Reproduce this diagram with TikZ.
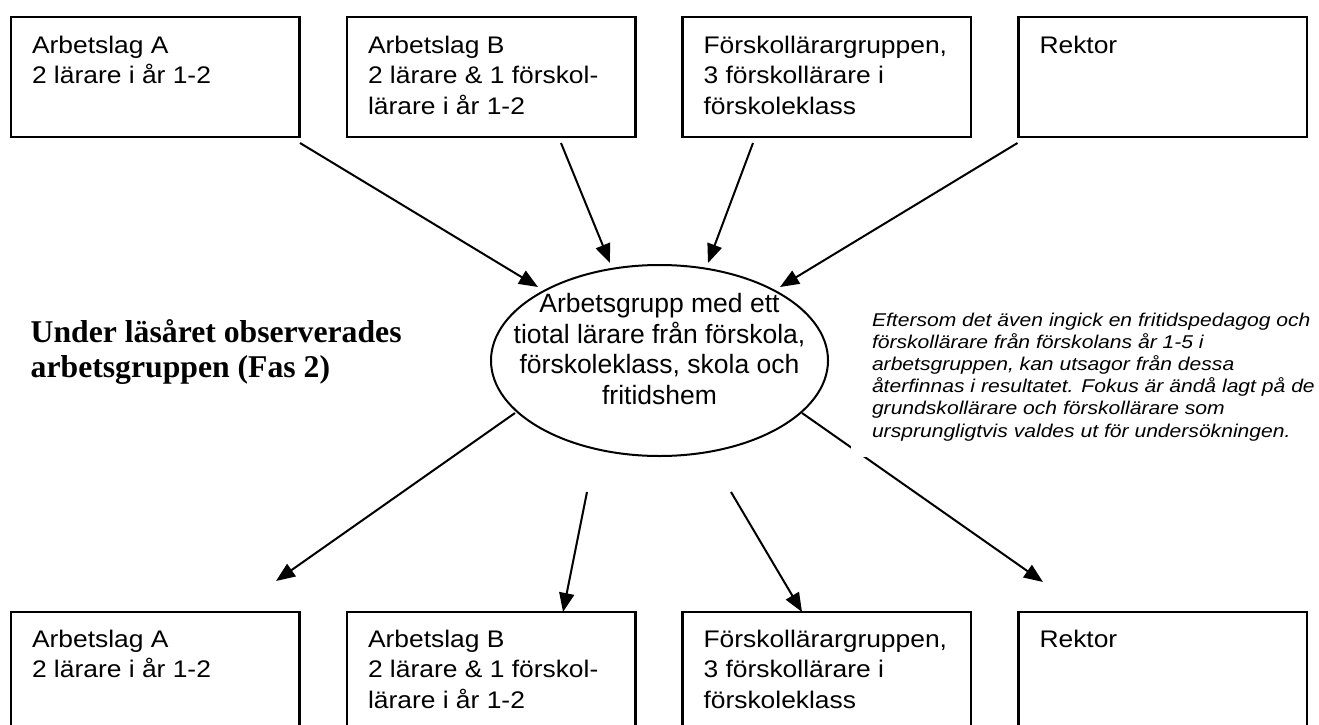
\documentclass[tikz,border=0pt]{standalone}
\usepackage{fontspec}
\setmainfont{Liberation Serif}
\setsansfont{Liberation Sans}
\newfontfamily\boxfont[FakeStretch=1.1]{Liberation Sans}
\newfontfamily\notefont[FakeStretch=1.14]{Liberation Sans}
\usetikzlibrary{arrows.meta,shapes.geometric}

\begin{document}
\begin{tikzpicture}[x=1pt,y=-1pt,
  every node/.style={inner sep=0pt, outer sep=0pt},
  unitbox/.style={draw, line width=2.2pt, minimum width=288.5pt, minimum height=120pt, anchor=north west},
  lowbox/.style={unitbox, minimum height=140pt},
  boxtext/.style={anchor=base west, align=left, font=\boxfont\fontsize{24}{30.7}\selectfont},
  flow/.style={line width=2pt, -{Triangle[length=19pt,width=15pt]}},
]
\useasboundingbox (0,0) rectangle (1319,725);
\clip (0,0) rectangle (1319,725);

% upper row of groups
\node[unitbox] (ta) at (11,17) {};
\node[unitbox] (tb) at (347,17) {};
\node[unitbox] (tc) at (682.5,17) {};
\node[unitbox] (td) at (1018.5,17) {};
% (text anchors sit on the last line: 36 + (lines-1) * 30.7 below the top)
\node[boxtext] (tatxt) at ([shift={(21,66.7)}]ta.north west) {Arbetslag A\\2 lärare i år 1-2};
\node[boxtext] (tbtxt) at ([shift={(21,97.4)}]tb.north west) {Arbetslag B\\2 lärare \& 1 förskol-\\lärare i år 1-2};
\node[boxtext] (tctxt) at ([shift={(21,97.4)}]tc.north west) {Förskollärargruppen,\\3 förskollärare i\\förskoleklass};
\node[boxtext] (tdtxt) at ([shift={(21,36)}]td.north west) {Rektor};

% lower row of groups (open at the foot)
\node[lowbox] (ba) at (11,612) {};
\node[lowbox] (bb) at (347,612) {};
\node[lowbox] (bc) at (682.5,612) {};
\node[lowbox] (bd) at (1018.5,612) {};
\node[boxtext] (batxt) at ([shift={(21,65.7)}]ba.north west) {Arbetslag A\\2 lärare i år 1-2};
\node[boxtext] (bbtxt) at ([shift={(21,96.4)}]bb.north west) {Arbetslag B\\2 lärare \& 1 förskol-\\lärare i år 1-2};
\node[boxtext] (bctxt) at ([shift={(21,96.4)}]bc.north west) {Förskollärargruppen,\\3 förskollärare i\\förskoleklass};
\node[boxtext] (bdtxt) at ([shift={(21,35)}]bd.north west) {Rektor};

% the working group
\node[draw, ellipse, line width=2pt, minimum width=337pt, minimum height=191pt] (grp) at (659.5,360.5) {};
\node[anchor=base, align=center, font=\sffamily\fontsize{26.5}{30.5}\selectfont] (grptxt)
  at ([shift={(0,43.5)}]grp.center) {Arbetsgrupp med ett\\tiotal lärare från förskola,\\förskoleklass, skola och\\fritidshem};

% phase heading
\node[anchor=base west, align=left, font=\bfseries\fontsize{31.7}{35}\selectfont] (phase)
  at (30.7,377) {Under läsåret observerades\\arbetsgruppen (Fas 2)};

% arrows into the working group
\draw[flow] ([shift={(0.5,6)}]ta.south east) -- ([shift={(-121.5,-73.5)}]grp.center);
\draw[flow] ([shift={(-74.5,6)}]tb.south east) -- ([shift={(-49.5,-97.5)}]grp.center);
\draw[flow] ([shift={(70.5,6)}]tc.south west) -- ([shift={(48.5,-97.5)}]grp.center);
\draw[flow] ([shift={(-1,6)}]td.south west) -- ([shift={(120.5,-73.5)}]grp.center);

% arrows out of the working group
\draw[flow] ([shift={(-144.5,52.5)}]grp.center) -- ([shift={(-71,-31)}]bb.north west);
\draw[flow] ([shift={(-72.5,131.5)}]grp.center) -- ([shift={(216,0)}]bb.north west);
\draw[flow] ([shift={(71.5,131.5)}]grp.center) -- ([shift={(119.5,0)}]bc.north west);
\draw[flow] ([shift={(142.5,52.5)}]grp.center) -- ([shift={(24.5,-30)}]bd.north west);

% side note, set on a white ground
\node[anchor=south west, fill=white, inner xsep=21pt, inner ysep=16pt, align=left,
      font=\notefont\itshape\fontsize{18.5}{22.2}\selectfont] (note)
  at (851,457) {Eftersom det även ingick en fritidspedagog och\\förskollärare från förskolans år 1-5 i\\arbetsgruppen, kan utsagor från dessa\\återfinnas i resultatet. Fokus är ändå lagt på de\\grundskollärare och förskollärare som\\ursprungligtvis valdes ut för undersökningen.};
\end{tikzpicture}
\end{document}
